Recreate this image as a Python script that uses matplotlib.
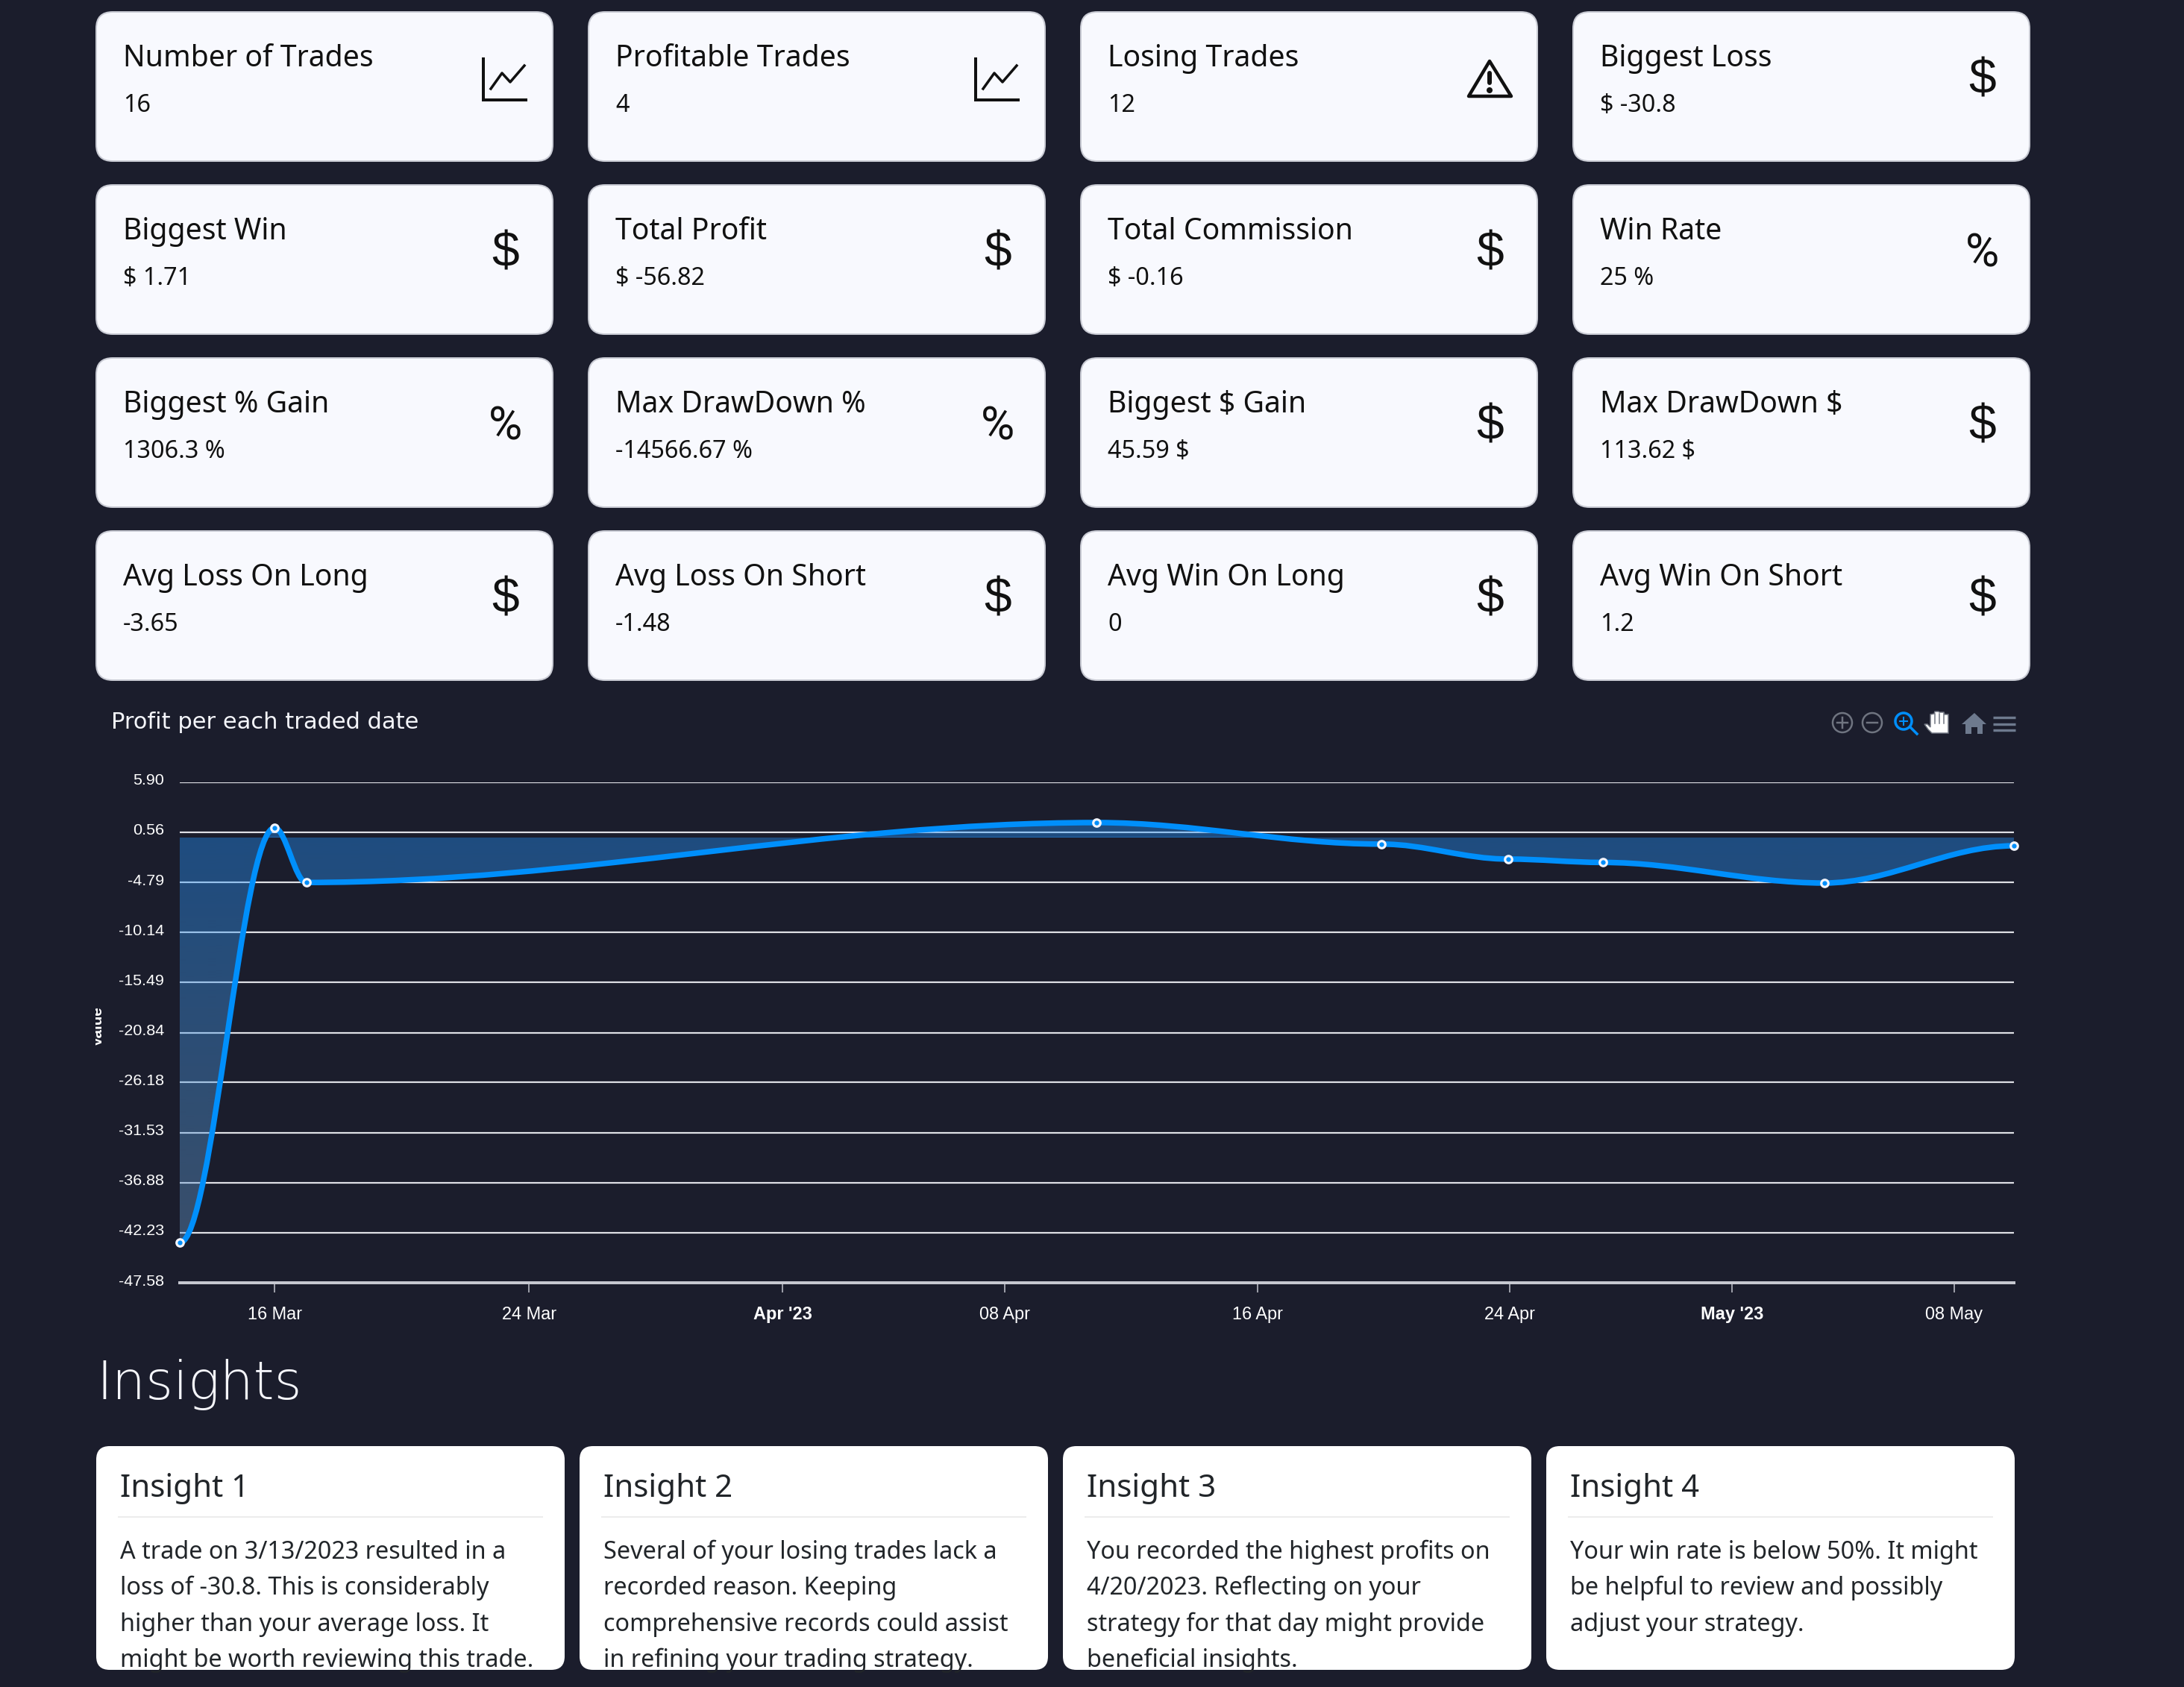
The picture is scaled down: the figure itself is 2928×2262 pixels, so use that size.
"""Trading dashboard screenshot: stat cards, profit chart, insights."""
import numpy as np
import pandas as pd
import matplotlib
matplotlib.use("Agg")
import matplotlib.pyplot as plt
import matplotlib.dates as mdates
from matplotlib.patches import FancyBboxPatch, PathPatch, Polygon, Circle, Rectangle
from matplotlib.path import Path
from matplotlib.transforms import ScaledTranslation

W, H = 2928, 2262
BG, BLUE, GREY_ICON = "#1b1d2c", "#008ffb", "#6e7a8e"
UI_FONT = ["Noto Sans", "DejaVu Sans"]
HEAD_FONT = ["DejaVu Sans"]
AXIS_FONT = ["Liberation Sans", "DejaVu Sans"]

card_titles = ["Number of Trades", "Profitable Trades", "Losing Trades", "Biggest Loss",
               "Biggest Win", "Total Profit", "Total Commission", "Win Rate",
               "Biggest % Gain", "Max DrawDown %", "Biggest $ Gain", "Max DrawDown $",
               "Avg Loss On Long", "Avg Loss On Short", "Avg Win On Long", "Avg Win On Short"]
card_values = ["16", "4", "12", "$ -30.8",
               "$ 1.71", "$ -56.82", "$ -0.16", "25 %",
               "1306.3 %", "-14566.67 %", "45.59 $", "113.62 $",
               "-3.65", "-1.48", "0", "1.2"]
card_icons = ["chart", "chart", "warn", "$",
              "$", "$", "$", "%",
              "%", "%", "$", "$",
              "$", "$", "$", "$"]
card_x = [129, 789, 1449, 2109]
card_y = [16, 248, 480, 712]

trade_dates = ["2023-03-13", "2023-03-16", "2023-03-17", "2023-04-11", "2023-04-20",
               "2023-04-24", "2023-04-27", "2023-05-04", "2023-05-10"]
profit = [-43.3, 1.04, -4.8, 1.6, -0.7, -2.3, -2.66, -4.86, -0.88]
y_ticks = [5.90, 0.56, -4.79, -10.14, -15.49, -20.84, -26.18, -31.53, -36.88, -42.23, -47.58]
x_tick_dates = ["2023-03-16 00:00", "2023-03-24 01:00", "2023-04-01 01:30", "2023-04-08 02:00",
                "2023-04-16 02:00", "2023-04-24 01:30", "2023-05-01 02:00", "2023-05-08 02:30"]
x_tick_labels = ["16 Mar", "24 Mar", "Apr '23", "08 Apr", "16 Apr", "24 Apr", "May '23", "08 May"]

insight_titles = ["Insight 1", "Insight 2", "Insight 3", "Insight 4"]
insight_lines = [
    ["A trade on 3/13/2023 resulted in a", "loss of -30.8. This is considerably",
     "higher than your average loss. It", "might be worth reviewing this trade."],
    ["Several of your losing trades lack a", "recorded reason. Keeping",
     "comprehensive records could assist", "in refining your trading strategy."],
    ["You recorded the highest profits on", "4/20/2023. Reflecting on your",
     "strategy for that day might provide", "beneficial insights."],
    ["Your win rate is below 50%. It might", "be helpful to review and possibly",
     "adjust your strategy."],
]
insight_x = [129, 777, 1425, 2073]


def px(n):
    # font size / line width given in image pixels
    return n * 0.72


fig = plt.figure(figsize=(W / 100, H / 100), dpi=100, facecolor=BG)
bg = fig.add_axes([0, 0, 1, 1], zorder=1)
bg.set_xlim(0, W); bg.set_ylim(H, 0); bg.axis("off")


def draw_icon(kind, x, y):
    if kind == "chart":
        bg.plot([x + 519, x + 519, x + 578], [y + 61, y + 118, y + 118], c="#111", lw=px(4),
                solid_joinstyle="miter", solid_capstyle="butt")
        bg.plot([x + 529, x + 544, x + 555, x + 574], [y + 103, y + 82, y + 94, y + 72], c="#111", lw=px(3.5))
    elif kind == "warn":
        bg.add_patch(Polygon([(x + 548, y + 66), (x + 520, y + 113), (x + 577, y + 113)], closed=True,
                             fc="none", ec="#111", lw=px(4.5), joinstyle="round"))
        bg.plot([x + 548, x + 548], [y + 82, y + 95], c="#111", lw=px(6), solid_capstyle="round")
        bg.add_patch(Circle((x + 548, y + 105), 4, fc="#111", ec="none"))
    elif kind == "$":
        bg.text(x + 549, y + 93, kind, ha="center", va="center", color="#111",
                fontsize=px(66), family=AXIS_FONT)
    else:
        bg.text(x + 549, y + 93, kind, ha="center", va="center", color="#111",
                fontsize=px(62), family=["Roboto", "DejaVu Sans"])


# ---------------------------------------------------------------- stat cards
for i, (title, val, icon) in enumerate(zip(card_titles, card_values, card_icons)):
    x, y = card_x[i % 4], card_y[i // 4]
    bg.add_patch(FancyBboxPatch((x, y), 612, 200, boxstyle="round,pad=0,rounding_size=22",
                                fc="#f8f9fe", ec="#c8cad3", lw=px(2)))
    bg.text(x + 36, y + 73, title, fontsize=px(39.2), family=UI_FONT, color="#111", va="baseline")
    bg.text(x + 36, y + 134, val, fontsize=px(32.4), family=UI_FONT, color="#111", va="baseline")
    draw_icon(icon, x, y)

# ---------------------------------------------------------------- chart header + toolbar
bg.text(149, 977, "Profit per each traded date", fontsize=px(30.5), family=HEAD_FONT, color="#f4f5fa",
        va="baseline")
for cx, sign in ((2470, "+"), (2510, "-")):
    bg.add_patch(Circle((cx, 969), 13, fc="none", ec="#6f7480", lw=px(2.5)))
    bg.plot([cx - 7, cx + 7], [969, 969], c="#6f7480", lw=px(2.5))
    if sign == "+":
        bg.plot([cx, cx], [962, 976], c="#6f7480", lw=px(2.5))
bg.add_patch(Circle((2552, 967), 11, fc="none", ec=BLUE, lw=px(3.5)))
bg.plot([2561, 2570], [975, 984], c=BLUE, lw=px(3.5))
bg.plot([2547, 2557], [967, 967], c=BLUE, lw=px(2))
bg.plot([2552, 2552], [962, 972], c=BLUE, lw=px(2))
bg.add_patch(Polygon([(2590, 983), (2612, 983), (2612, 958), (2607, 958), (2606, 955), (2600, 955),
                      (2599, 954), (2594, 954), (2593, 957), (2588, 958), (2588, 975), (2584, 971),
                      (2580, 971), (2585, 978)], closed=True, fc="white", ec="#6f7480", lw=px(1.5)))
for fx in (2594, 2600, 2606):
    bg.plot([fx, fx], [957, 970], c="#6f7480", lw=px(1.5))
bg.add_patch(Polygon([(2630, 971), (2647, 956), (2663, 971), (2658, 971), (2658, 984), (2651, 984),
                      (2651, 975), (2643, 975), (2643, 984), (2635, 984), (2635, 971)],
                     closed=True, fc=GREY_ICON, ec="none"))
for ly in (962, 971, 979):
    bg.plot([2672, 2702], [ly, ly], c=GREY_ICON, lw=px(3.4), solid_capstyle="butt")
val_lab = bg.text(137, 1376, "Value", rotation=90, ha="center", va="baseline", rotation_mode="anchor",
                  fontsize=px(20.5), color="white", family=AXIS_FONT, fontweight="bold")
val_lab.set_clip_on(True)
val_lab.set_clip_path(Rectangle((128, 1340), 12, 70, transform=bg.transData))

# ---------------------------------------------------------------- profit chart
ax = fig.add_axes([241 / W, 1 - 1720 / H, (2700 - 241) / W, (1720 - 1049) / H], zorder=2)
ax.patch.set_alpha(0)
xs = mdates.date2num(pd.to_datetime(trade_dates))
ax.set_xlim(xs[0], xs[-1])
ax.set_ylim(y_ticks[-1], y_ticks[0])
for s in ("top", "left", "right"):
    ax.spines[s].set_visible(False)
ax.spines["bottom"].set_color("#c6c8d0")
ax.spines["bottom"].set_linewidth(px(4))
ax.set_yticks(y_ticks, [f"{v:.2f}" for v in y_ticks])
ax.set_xticks(mdates.date2num(pd.to_datetime(x_tick_dates)), x_tick_labels)
ax.grid(axis="y", color="#dfe0e6", lw=px(2.2))
ax.set_axisbelow(True)
ax.tick_params(axis="y", length=0, pad=px(21), labelsize=px(21.5), labelcolor="white")
ax.tick_params(axis="x", length=px(13), width=px(2), color="#9a9ca6", pad=px(18), labelsize=px(23.5),
               labelcolor="white")
for t in ax.get_yticklabels() + ax.get_xticklabels():
    t.set_family(AXIS_FONT)
    if "'" in t.get_text():
        t.set_fontweight("bold")
for t in ax.get_yticklabels():
    t.set_verticalalignment("center")
    t.set_transform(t.get_transform() + ScaledTranslation(0, 2 / 100, fig.dpi_scale_trans))

# smooth line: every point has a flat tangent, controls at 35% of the gap
verts, codes = [(xs[0], profit[0])], [Path.MOVETO]
for i in range(1, len(xs)):
    gap = (xs[i] - xs[i - 1]) * 0.35
    verts += [(xs[i - 1] + gap, profit[i - 1]), (xs[i] - gap, profit[i]), (xs[i], profit[i])]
    codes += [Path.CURVE4] * 3
area = PathPatch(Path(verts + [(xs[-1], 0), (xs[0], 0), (xs[0], profit[0])],
                      codes + [Path.LINETO, Path.LINETO, Path.LINETO]),
                 fc="none", ec="none", transform=ax.transData)
ax.add_patch(area)
# fill fades from saturated blue at zero to a greyer blue at the bottom
grad = np.zeros((256, 1, 4))
t = np.linspace(0, 1, 256)
grad[:, 0, 0] = (37 + (104 - 37) * t) / 255
grad[:, 0, 1] = (149 + (154 - 149) * t) / 255
grad[:, 0, 2] = (254 + (202 - 254) * t) / 255
grad[:, 0, 3] = 0.4
img = ax.imshow(grad, aspect="auto", origin="upper", zorder=2,
                extent=[xs[0], xs[-1], min(profit), 0], interpolation="bilinear")
img.set_clip_path(area)
top_img = ax.imshow(grad[:1], aspect="auto", zorder=2, extent=[xs[0], xs[-1], 0, max(profit) + 1])
top_img.set_clip_path(area)
ax.set_xlim(xs[0], xs[-1]); ax.set_ylim(y_ticks[-1], y_ticks[0])
ax.add_patch(PathPatch(Path(verts, codes), fc="none", ec=BLUE, lw=px(7.5), capstyle="round", zorder=3,
                       clip_on=False))
ax.plot(xs, profit, ls="none", marker="o", ms=px(9.5), mfc=BLUE, mec="#f2f4fb", mew=px(3.2), zorder=4, clip_on=False)

# ---------------------------------------------------------------- insights
bg.text(129, 1876, "Insights", fontsize=px(71), family=HEAD_FONT, color="#f4f5fa", fontweight="light",
        va="baseline")
for x, title, lines in zip(insight_x, insight_titles, insight_lines):
    card = FancyBboxPatch((x, 1939), 628, 300, boxstyle="round,pad=0,rounding_size=18", fc="white", ec="none")
    bg.add_patch(card)
    bg.text(x + 32, 2007, title, fontsize=px(42), family=UI_FONT, color="#212529", va="baseline")
    bg.plot([x + 30, x + 598], [2034, 2034], c="#ececec", lw=px(2))
    for j, line in enumerate(lines):
        t = bg.text(x + 32, 2090 + j * 48.3, line, fontsize=px(32.4), family=UI_FONT, color="#212529",
                    va="baseline")
        t.set_clip_path(card)

fig.savefig("out.png", dpi=100, facecolor=BG)
